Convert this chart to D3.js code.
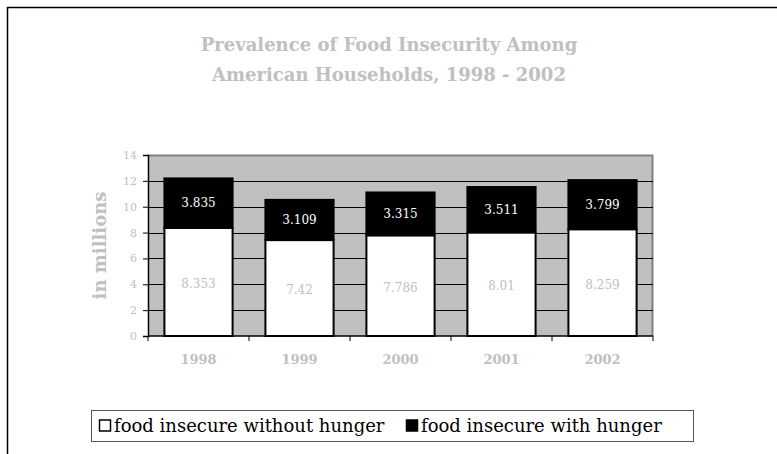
<!DOCTYPE html>
<html>
<head>
<meta charset="utf-8">
<script src="https://cdn.jsdelivr.net/npm/d3@7"></script>
<style>
  body { margin: 0; background: #fff; }
  svg { display: block; }
</style>
</head>
<body>
<svg width="777" height="454"></svg>
<script>
var years = ["1998", "1999", "2000", "2001", "2002"];
var withoutHunger = [8.353, 7.42, 7.786, 8.01, 8.259];
var withHunger = [3.835, 3.109, 3.315, 3.511, 3.799];
var yTicks = [0, 2, 4, 6, 8, 10, 12, 14];
var seriesNames = ["food insecure without hunger", "food insecure with hunger"];

var svg = d3.select("svg"),
    margin = {top: 155, right: 124, bottom: 118, left: 148},
    width = 777 - margin.left - margin.right,
    height = 454 - margin.top - margin.bottom,
    serif = "DejaVu Serif",
    grey = "#c0c0c0";

// outer chart frame (cropped at right and bottom)
svg.append("path")
    .attr("d", "M7.5,454V7.5H777")
    .attr("fill", "none")
    .attr("stroke", "#000")
    .attr("stroke-width", 1.5);

svg.append("text")
    .attr("x", 389).attr("y", 51)
    .attr("text-anchor", "middle")
    .attr("font-family", serif).attr("font-weight", "bold")
    .attr("font-size", 18).attr("fill", grey)
    .selectAll("tspan")
    .data(["Prevalence of Food Insecurity Among", "American Households, 1998 - 2002"])
    .join("tspan")
      .attr("x", 389)
      .attr("dy", function(d, i) { return i ? 30 : 0; })
      .text(function(d) { return d; });

var g = svg.append("g").attr("transform", "translate(" + margin.left + "," + margin.top + ")");

var x = d3.scaleBand().domain(years).range([0, width]).paddingInner(0.325).paddingOuter(0.1625);
var y = d3.scaleLinear().domain([0, 14]).range([height, 0]);

// plot area
g.append("rect")
    .attr("width", width).attr("height", height)
    .attr("fill", grey);
g.append("path")
    .attr("d", "M0,0.5H" + (width - 0.5) + "V" + height)
    .attr("fill", "none").attr("stroke", "#808080").attr("stroke-width", 2);

// gridlines
g.selectAll(".grid")
  .data(yTicks.slice(1, -1))
  .join("line")
    .attr("x1", 0).attr("x2", width)
    .attr("y1", function(d) { return Math.round(y(d)) + 0.5; })
    .attr("y2", function(d) { return Math.round(y(d)) + 0.5; })
    .attr("stroke", "#000");

// bars
var bars = g.selectAll(".bar")
  .data(years)
  .join("g")
    .attr("transform", function(d) { return "translate(" + x(d) + ",0)"; });

bars.append("rect")
    .attr("y", function(d, i) { return y(withoutHunger[i]); })
    .attr("width", x.bandwidth())
    .attr("height", function(d, i) { return y(0) - y(withoutHunger[i]); })
    .attr("fill", "#fff").attr("stroke", "#000").attr("stroke-width", 2);

bars.append("rect")
    .attr("y", function(d, i) { return y(withoutHunger[i] + withHunger[i]); })
    .attr("width", x.bandwidth())
    .attr("height", function(d, i) { return y(withoutHunger[i]) - y(withoutHunger[i] + withHunger[i]); })
    .attr("fill", "#000").attr("stroke", "#000").attr("stroke-width", 2);

bars.append("text")
    .attr("x", x.bandwidth() / 2)
    .attr("y", function(d, i) { return y(withoutHunger[i] / 2) + 6; })
    .attr("text-anchor", "middle")
    .attr("font-family", serif).attr("font-size", 12).attr("fill", grey)
    .text(function(d, i) { return withoutHunger[i]; });

bars.append("text")
    .attr("x", x.bandwidth() / 2)
    .attr("y", function(d, i) { return y(withoutHunger[i] + withHunger[i] / 2) + 4; })
    .attr("text-anchor", "middle")
    .attr("font-family", serif).attr("font-size", 12).attr("fill", "#fff")
    .text(function(d, i) { return withHunger[i]; });

// y axis
var yAxis = g.append("g")
    .call(d3.axisLeft(y).tickValues(yTicks).tickSize(5).tickPadding(6));
yAxis.select(".domain").attr("stroke", "#000").attr("stroke-width", 1.5);
yAxis.selectAll("text").attr("font-family", serif).attr("font-size", 11).attr("fill", grey);

// x axis
var xEdges = d3.scaleLinear().domain([0, years.length]).range([0, width]);
var xAxis = g.append("g").attr("transform", "translate(0," + height + ")");
xAxis.append("line")
    .attr("x1", 0).attr("x2", width)
    .attr("stroke", "#000").attr("stroke-width", 1.5);
xAxis.selectAll(".tick")
  .data(d3.range(years.length + 1))
  .join("line")
    .attr("x1", function(d) { return xEdges(d); })
    .attr("x2", function(d) { return xEdges(d); })
    .attr("y1", 0).attr("y2", 5)
    .attr("stroke", "#000");
xAxis.selectAll(".lab")
  .data(years)
  .join("text")
    .attr("x", function(d) { return x(d) + x.bandwidth() / 2; })
    .attr("y", 28)
    .attr("text-anchor", "middle")
    .attr("font-family", serif).attr("font-weight", "bold")
    .attr("font-size", 13).attr("fill", grey)
    .text(function(d) { return d; });

svg.append("text")
    .attr("transform", "translate(106," + (margin.top + height / 2) + ") rotate(-90)")
    .attr("text-anchor", "middle")
    .attr("font-family", serif).attr("font-weight", "bold")
    .attr("font-size", 18).attr("fill", grey)
    .text("in millions");

// legend
var legend = svg.append("g");
legend.append("rect")
    .attr("x", 91.5).attr("y", 410.5).attr("width", 602).attr("height", 31)
    .attr("fill", "#fff").attr("stroke", "#555");
var items = legend.selectAll(".item")
  .data(seriesNames)
  .join("g")
    .attr("transform", function(d, i) { return "translate(" + (i ? 406 : 99) + ",0)"; });
items.append("rect")
    .attr("x", 0.5).attr("y", 420)
    .attr("width", 11).attr("height", 11)
    .attr("fill", function(d, i) { return i ? "#000" : "#fff"; })
    .attr("stroke", "#000").attr("stroke-width", 1.5);
items.append("text")
    .attr("x", 15).attr("y", 432)
    .attr("font-family", serif).attr("font-size", 18).attr("fill", "#000")
    .text(function(d) { return d; });
</script>
</body>
</html>
